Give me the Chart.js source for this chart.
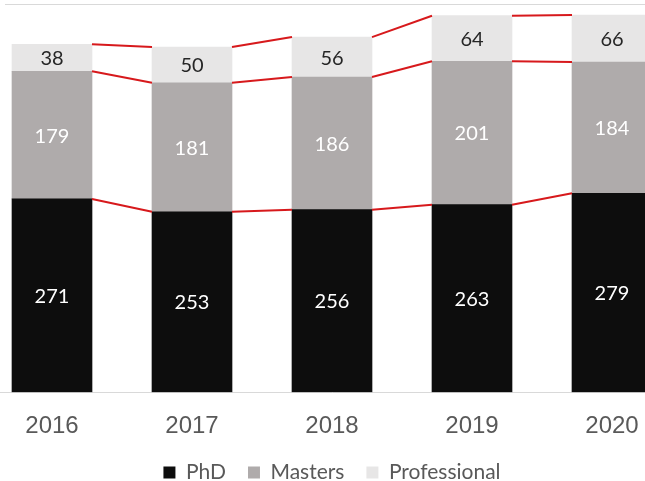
<!DOCTYPE html>
<html>
<head>
<meta charset="utf-8">
<script src="https://cdn.jsdelivr.net/npm/chart.js@4/dist/chart.umd.min.js"></script>
<style>
  html, body { margin: 0; padding: 0; background: #fff; overflow: hidden; }
  #wrap { position: relative; width: 645px; height: 481px; overflow: hidden; }
  #frame { position: absolute; left: 5px; right: 0; top: 4px; height: 1px; background: #d9d9d9; }
  #box { position: absolute; left: -18px; top: 0; width: 700px; height: 493px; }
</style>
</head>
<body>
<div id="wrap">
  <div id="box"><canvas id="enrol_chart"></canvas></div>
  <div id="frame"></div>
</div>
<script>
let years = ['2016', '2017', '2018', '2019', '2020']
let phd = [271, 253, 256, 263, 279]
let masters = [179, 181, 186, 201, 184]
let professional = [38, 50, 56, 64, 66]

// red connector lines between the tops of each stacked segment
const connectors = {
    id: 'connectors',
    afterDatasetsDraw(chart) {
        const ctx = chart.ctx;
        const y = chart.scales.y;
        ctx.save();
        ctx.strokeStyle = '#d7191c';
        ctx.lineWidth = 2;
        for (let d = 0; d < chart.data.datasets.length; d++) {
            const bars = chart.getDatasetMeta(d).data;
            for (let i = 0; i < bars.length - 1; i++) {
                let sumA = 0, sumB = 0;
                for (let k = 0; k <= d; k++) {
                    sumA += chart.data.datasets[k].data[i];
                    sumB += chart.data.datasets[k].data[i + 1];
                }
                const a = bars[i], b = bars[i + 1];
                ctx.beginPath();
                ctx.moveTo(a.x + a.width / 2, y.getPixelForValue(sumA));
                ctx.lineTo(b.x - b.width / 2, y.getPixelForValue(sumB));
                ctx.stroke();
            }
        }
        ctx.restore();
    }
}

// value labels in the middle of every segment
const valueLabels = {
    id: 'valueLabels',
    afterDatasetsDraw(chart) {
        const ctx = chart.ctx;
        ctx.save();
        ctx.font = '20px Lato, "Open Sans", sans-serif';
        ctx.textAlign = 'center';
        ctx.textBaseline = 'middle';
        chart.data.datasets.forEach((ds, d) => {
            chart.getDatasetMeta(d).data.forEach((bar, i) => {
                ctx.fillStyle = ds.labelColor;
                ctx.fillText(ds.data[i], bar.x, (bar.y + bar.base) / 2 + 1);
            });
        });
        ctx.restore();
    }
}

function add_chart(){
    const ctx = document.getElementById('enrol_chart');
    new Chart(ctx, {
        type: 'bar',
        data: {
            labels: years,
            datasets: [
                { label: 'PhD', data: phd, backgroundColor: '#0d0d0d', labelColor: '#ffffff' },
                { label: 'Masters', data: masters, backgroundColor: '#afabab', labelColor: '#ffffff' },
                { label: 'Professional', data: professional, backgroundColor: '#e7e6e6', labelColor: '#262626' }
            ]
        },
        options: {
            responsive: true,
            maintainAspectRatio: false,
            animation: false,
            barThickness: 80,
            layout: { padding: { top: 0, bottom: 0 } },
            scales: {
                x: {
                    stacked: true,
                    grid: { display: false, drawTicks: false },
                    border: { color: '#d9d9d9', width: 1 },
                    ticks: { color: '#595959', padding: 20, font: { size: 24, family: '"Liberation Sans", Arial, sans-serif' } },
                    afterFit: (scale) => { scale.height -= 21; } // pull plot area down towards the legend
                },
                y: {
                    stacked: true,
                    display: false,
                    min: 0,
                    max: 550
                }
            },
            plugins: {
                tooltip: { enabled: false },
                legend: {
                    position: 'bottom',
                    labels: {
                        boxWidth: 12,
                        boxHeight: 12,
                        padding: 22,
                        color: '#595959',
                        font: { size: 21, family: 'Lato, "Open Sans", sans-serif' }
                    }
                }
            }
        },
        plugins: [connectors, valueLabels]
    });
}

add_chart()
</script>
</body>
</html>
